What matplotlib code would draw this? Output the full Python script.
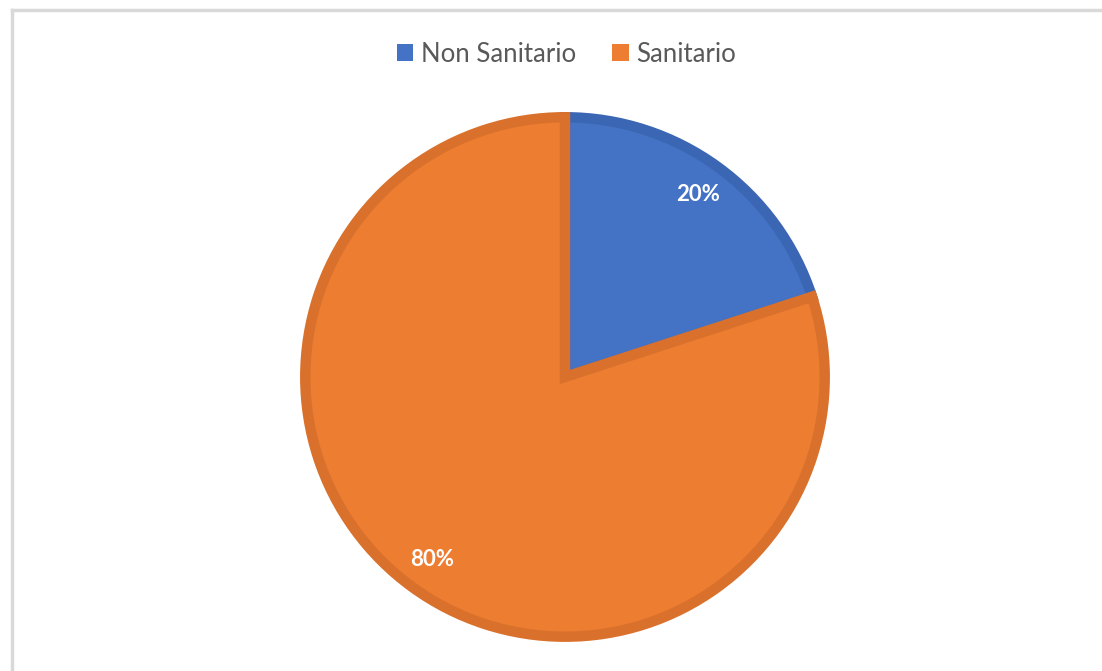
import matplotlib.pyplot as plt
from matplotlib.lines import Line2D

labels = ["Non Sanitario", "Sanitario"]
values = [20, 80]
colors = ["#4472C4", "#ED7D31"]
edge_colors = ["#3B66B3", "#D9712C"]

plt.rcParams['font.family'] = ['Lato', 'DejaVu Sans']

fig = plt.figure(figsize=(11.02, 6.71), dpi=100)

# chart area border (light gray, top and left visible)
fig.add_artist(Line2D([12 / 1102, 12 / 1102], [0, 1 - 10 / 671], color="#D9D9D9", lw=2.5))
fig.add_artist(Line2D([12 / 1102, 1], [1 - 10 / 671, 1 - 10 / 671], color="#D9D9D9", lw=2.5))

ax = fig.add_axes([0.2722, 0.0432, 0.481, 0.790])
wedges, texts, autotexts = ax.pie(
    values, colors=colors, startangle=90, counterclock=False,
    autopct="%1.0f%%", pctdistance=0.87, radius=0.98,
    wedgeprops=dict(linewidth=7.5),
    textprops=dict(color="white", fontsize=16, fontweight="bold"))
for w, ec in zip(wedges, edge_colors):
    w.set_edgecolor(ec)
    w.set_joinstyle("miter")
ax.set_xlim(-1, 1)
ax.set_ylim(-1, 1)
ax.set_aspect("equal")

fig.legend(wedges, labels, loc="center", bbox_to_anchor=(0.514, 1 - 54 / 671),
           ncol=2, frameon=False, fontsize=18.5, labelcolor="#595959",
           handlelength=0.65, handleheight=0.65, handletextpad=0.3, columnspacing=1.4)
for h in fig.legends[0].legend_handles:
    h.set_edgecolor("none")

fig.savefig("out.png", dpi=100)
